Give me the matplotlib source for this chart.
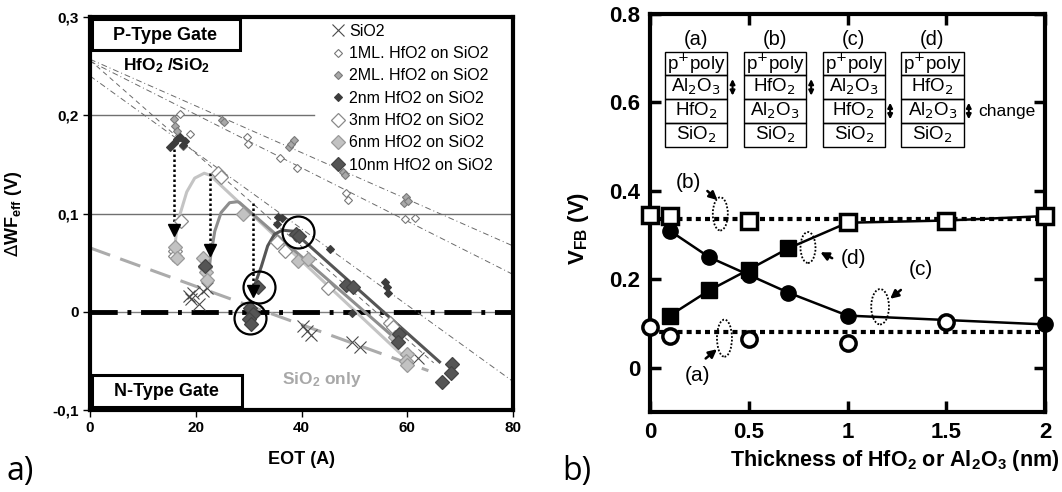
import numpy as np
import matplotlib
matplotlib.use("Agg")
import matplotlib.pyplot as plt
from matplotlib.patches import Rectangle, Ellipse

plt.rcParams['font.family'] = ['Liberation Sans', 'DejaVu Sans']

# ---------------- panel a) data : EOT (A) vs dWF_eff (V) ----------------
sio2_eot = [18.7, 19.1, 19.5, 20.6, 22.1, 21.4, 40.3, 41.0, 41.8, 49.5, 51.0, 62.0]
sio2_dwf = [0.016, 0.013, 0.019, 0.008, 0.024, 0.021, -0.014, -0.020, -0.024, -0.031, -0.036, -0.047]

ml1_eot = [17.0, 19.0, 17.5, 29.6, 29.8, 35.9, 39.1, 48.5, 48.8, 59.5, 61.4]
ml1_dwf = [0.201, 0.181, 0.169, 0.178, 0.171, 0.156, 0.146, 0.121, 0.114, 0.094, 0.095]

ml2_eot = [15.8, 16.0, 16.5, 24.9, 25.3, 37.6, 38.1, 38.6, 47.8, 48.2, 59.3, 59.7, 60.1]
ml2_dwf = [0.196, 0.189, 0.184, 0.195, 0.193, 0.168, 0.171, 0.175, 0.142, 0.139, 0.111, 0.117, 0.113]

nm2_eot = [15.2, 15.8, 16.4, 17.0, 17.6, 18.0, 35.5, 36.4, 35.3, 45.4, 49.5, 55.8, 56.1, 56.4]
nm2_dwf = [0.168, 0.172, 0.176, 0.178, 0.170, 0.174, 0.096, 0.095, 0.089, 0.064, -0.001, 0.030, 0.025, 0.019]

nm3_eot = [17.3, 16.1, 16.1, 24.3, 24.8, 35.3, 36.9, 45.0, 56.7, 57.3]
nm3_dwf = [0.092, 0.062, 0.057, 0.141, 0.137, 0.071, 0.062, 0.024, -0.011, -0.016]

nm6_eot = [16.1, 16.5, 21.4, 21.7, 21.9, 22.1, 29.0, 39.4, 41.2, 57.6, 59.9, 59.7, 60.0]
nm6_dwf = [0.066, 0.055, 0.055, 0.046, 0.040, 0.032, 0.100, 0.052, 0.054, -0.026, -0.043, -0.050, -0.054]

nm10_eot = [21.8, 30.3, 30.8, 30.1, 30.5, 31.7, 39.0, 39.6, 48.5, 49.8, 58.4, 58.2, 68.5, 68.2, 66.6]
nm10_dwf = [0.047, 0.004, -0.002, -0.007, -0.012, 0.025, 0.079, 0.077, 0.027, 0.025, -0.023, -0.031, -0.053, -0.062, -0.072]

# linear fits (start / end points)
fit_eot = [[0, 80], [0, 80], [0, 80], [0, 65]]
fit_dwf = [[0.257, 0.067], [0.255, 0.038], [0.240, -0.071], [0.256, -0.052]]
sio2_fit_eot = [0, 64]
sio2_fit_dwf = [0.065, -0.060]

# guide curves
curve_light_eot = [15.8, 16.3, 16.9, 18.3, 19.8, 21.6, 22.7, 59.8]
curve_light_dwf = [0.052, 0.079, 0.097, 0.122, 0.136, 0.141, 0.139, -0.048]
curve_mid_eot = [22.4, 22.8, 23.6, 24.8, 26.4, 27.9, 28.3, 57.9]
curve_mid_dwf = [0.037, 0.056, 0.082, 0.101, 0.111, 0.112, 0.111, -0.028]
curve_dark_eot = [30.8, 32.4, 33.6, 34.9, 36.4, 38.4, 66.1]
curve_dark_dwf = [0.022, 0.046, 0.067, 0.079, 0.083, 0.082, -0.051]

# dotted arrows
arrow_eot = [15.8, 22.7, 30.9]
arrow_top = [0.166, 0.141, 0.111]
arrow_bot = [0.083, 0.063, 0.021]

# circled points
circ_eot = [39.3, 32.0, 30.3]
circ_dwf = [0.081, 0.025, -0.006]

# ---------------- panel b) data : thickness (nm) vs VFB (V) ----------------
a_thick = [0, 0.1, 0.5, 1.0, 1.5]
a_vfb = [0.093, 0.072, 0.064, 0.055, 0.103]
b_thick = [0, 0.1, 0.5, 1.0, 1.5, 2.0]
b_vfb = [0.345, 0.343, 0.332, 0.330, 0.333, 0.343]
c_thick = [0.1, 0.3, 0.5, 0.7, 1.0, 2.0]
c_vfb = [0.310, 0.250, 0.210, 0.170, 0.118, 0.098]
d_thick = [0.1, 0.3, 0.5, 0.7, 1.0, 1.5, 2.0]
d_vfb = [0.118, 0.175, 0.222, 0.270, 0.328, 0.333, 0.343]
a_level = 0.082
b_level = 0.337

stack_names = ['(a)', '(b)', '(c)', '(d)']
stack_layers = [
    ['p$^{+}$poly', 'Al$_2$O$_3$', 'HfO$_2$', 'SiO$_2$'],
    ['p$^{+}$poly', 'HfO$_2$', 'Al$_2$O$_3$', 'SiO$_2$'],
    ['p$^{+}$poly', 'Al$_2$O$_3$', 'HfO$_2$', 'SiO$_2$'],
    ['p$^{+}$poly', 'HfO$_2$', 'Al$_2$O$_3$', 'SiO$_2$'],
]
stack_changed = [1, 1, 2, 2]

fig = plt.figure(figsize=(10.62, 4.92), dpi=100)

# =========================== panel a) ===========================
ax1 = fig.add_axes([90 / 1062, 82 / 492, 423 / 1062, 393 / 492])
ax1.set_xlim(0, 80)
ax1.set_ylim(-0.1, 0.3)

ax1.axhline(0.1, color='#707070', lw=1, zorder=1)
ax1.axhline(0.2, xmax=0.53, color='#707070', lw=1, zorder=1)
ax1.axhline(0, color='#808080', lw=1, zorder=1)
ax1.axhline(0, color='black', lw=3.5, linestyle=(0, (5.6, 2, 0.8, 2)), zorder=2)

fit_styles = [(0, (6, 3, 1, 3)), (0, (6, 3, 1, 3)), (0, (6, 3, 1, 3)), (0, (5, 4))]
for fx, fy, ls in zip(fit_eot, fit_dwf, fit_styles):
    ax1.plot(fx, fy, color='#6a6a6a', lw=0.7, linestyle=ls, zorder=2)
ax1.plot(sio2_fit_eot, sio2_fit_dwf, color='#ababab', lw=2.2,
         linestyle=(0, (7, 3.5)), zorder=2)

ax1.plot(curve_light_eot, curve_light_dwf, color='#c4c4c4', lw=2.2, zorder=3)
ax1.plot(curve_mid_eot, curve_mid_dwf, color='#8e8e8e', lw=2.2, zorder=3)
ax1.plot(curve_dark_eot, curve_dark_dwf, color='#555555', lw=2.2, zorder=3)

for xe, yt, yb in zip(arrow_eot, arrow_top, arrow_bot):
    ax1.plot([xe, xe], [yt, yb], color='black', lw=1.8, linestyle=(0, (1, 1)), zorder=4)
    ax1.plot(xe, yb, marker='v', color='black', ms=8, zorder=6)

h_sio2, = ax1.plot(sio2_eot, sio2_dwf, 'x', color='#4a4a4a', ms=9, mew=0.8, zorder=5,
                   label='SiO2')
h_ml1, = ax1.plot(ml1_eot, ml1_dwf, 'D', mfc='white', mec='#777777', ms=4, mew=0.8, zorder=5,
                  label='1ML. HfO2 on SiO2')
h_ml2, = ax1.plot(ml2_eot, ml2_dwf, 'D', mfc='#a8a8a8', mec='#7a7a7a', ms=4, mew=0.8, zorder=5,
                  label='2ML. HfO2 on SiO2')
h_nm2, = ax1.plot(nm2_eot, nm2_dwf, 'D', mfc='#3c3c3c', mec='#3c3c3c', ms=4, mew=0.8, zorder=5,
                  label='2nm HfO2 on SiO2')
h_nm3, = ax1.plot(nm3_eot, nm3_dwf, 'D', mfc='white', mec='#8a8a8a', ms=7, mew=0.9, zorder=5,
                  label='3nm HfO2 on SiO2')
h_nm6, = ax1.plot(nm6_eot, nm6_dwf, 'D', mfc='#c2c2c2', mec='#9a9a9a', ms=7, mew=0.9, zorder=5,
                  label='6nm HfO2 on SiO2')
h_nm10, = ax1.plot(nm10_eot, nm10_dwf, 'D', mfc='#555555', mec='#444444', ms=7, mew=0.9, zorder=5,
                   label='10nm HfO2 on SiO2')

ax1.plot(circ_eot, circ_dwf, 'o', mfc='none', mec='black', ms=23, mew=1.6, zorder=7)

ax1.legend(handles=[h_sio2, h_ml1, h_ml2, h_nm2, h_nm3, h_nm6, h_nm10],
           loc='upper left', bbox_to_anchor=(0.56, 0.995), frameon=False,
           fontsize=11.5, handlelength=0.8, handletextpad=0.3,
           labelspacing=0.46, borderaxespad=0.2, borderpad=0.1)

ax1.add_patch(Rectangle((0.005, 0.916), 0.35, 0.079, transform=ax1.transAxes,
                        fill=True, fc='white', ec='black', lw=2.2, zorder=8))
ax1.text(0.177, 0.954, 'P-Type Gate', transform=ax1.transAxes, ha='center', va='center',
         fontsize=13, fontweight='bold', zorder=9)
ax1.add_patch(Rectangle((0.005, 0.008), 0.355, 0.081, transform=ax1.transAxes,
                        fill=True, fc='white', ec='black', lw=2.2, zorder=8))
ax1.text(0.18, 0.047, 'N-Type Gate', transform=ax1.transAxes, ha='center', va='center',
         fontsize=13, fontweight='bold', zorder=9)
ax1.text(0.181, 0.876, r'HfO$\mathregular{_2}$ /SiO$\mathregular{_2}$', transform=ax1.transAxes,
         ha='center', va='center', fontsize=12.5, fontweight='bold')
ax1.text(0.547, 0.078, r'SiO$\mathregular{_2}$ only', transform=ax1.transAxes,
         ha='center', va='center', fontsize=12.5, fontweight='bold', color='#a8a8a8')

for s in ax1.spines.values():
    s.set_linewidth(3)
ax1.set_xticks([0, 20, 40, 60, 80])
ax1.set_yticks([-0.1, 0, 0.1, 0.2, 0.3])
ax1.set_yticklabels(['-0,1', '0', '0,1', '0,2', '0,3'])
ax1.tick_params(direction='out', length=5, width=1, labelsize=11, pad=3)
for lab in ax1.get_xticklabels() + ax1.get_yticklabels():
    lab.set_fontweight('bold')
ax1.set_xlabel('EOT (A)', fontsize=13, fontweight='bold')
ax1.set_ylabel(r'$\Delta$WF$\mathregular{_{eff}}$ (V)', fontsize=13, fontweight='bold')
ax1.xaxis.set_label_coords(0.5, -0.105)
ax1.yaxis.set_label_coords(-0.155, 0.5)

# =========================== panel b) ===========================
ax2 = fig.add_axes([650 / 1062, 80 / 492, 395 / 1062, 398 / 492])
ax2.set_xlim(0, 2)
ax2.set_ylim(-0.1, 0.8)

ax2.plot([0, 2], [a_level, a_level], color='black', lw=3, linestyle=(0, (1.2, 1)), zorder=2)
ax2.plot([0, 2], [b_level, b_level], color='black', lw=3, linestyle=(0, (1.2, 1)), zorder=2)
ax2.plot(c_thick, c_vfb, color='black', lw=1.8, zorder=3)
ax2.plot(d_thick, d_vfb, color='black', lw=1.8, zorder=3)

ax2.plot(c_thick, c_vfb, 'o', color='black', ms=11, zorder=4, clip_on=False)
ax2.plot(d_thick[:4], d_vfb[:4], 's', color='black', ms=12, zorder=4, clip_on=False)
ax2.plot(a_thick, a_vfb, 'o', mfc='white', mec='black', ms=11, mew=2.5, zorder=5, clip_on=False)
ax2.plot(b_thick, b_vfb, 's', mfc='white', mec='black', ms=12, mew=2.5, zorder=5, clip_on=False)

# dotted ellipses with arrows and labels
ell_xy = [(0.377, 0.067), (0.356, 0.348), (1.165, 0.138), (0.80, 0.272)]
ell_wh = [(0.076, 0.084), (0.076, 0.075), (0.09, 0.08), (0.076, 0.07)]
lab_xy = [(0.238, -0.017), (0.195, 0.419), (1.374, 0.222), (1.03, 0.248)]
arr_from = [(0.271, 0.017), (0.28, 0.404), (1.281, 0.18), (0.935, 0.245)]
arr_to = [(0.35, 0.046), (0.352, 0.375), (1.205, 0.152), (0.85, 0.264)]
for name, (ex, ey), (ew, eh), (lx, ly), af, at in zip(stack_names, ell_xy, ell_wh, lab_xy,
                                                        arr_from, arr_to):
    ax2.add_patch(Ellipse((ex, ey), ew, eh, fill=False, ec='black', lw=1.3,
                          linestyle=(0, (1, 1)), zorder=6))
    ax2.text(lx, ly, name, ha='center', va='center', fontsize=15)
    ax2.annotate('', xy=at, xytext=af,
                 arrowprops=dict(arrowstyle='-|>', color='black', lw=1.8, mutation_scale=12))

# layer stacks
stack_left = [0.038, 0.237, 0.437, 0.636]
stack_w = 0.158
row_top = 0.905
row_h = 0.0595
for i, (name, layers) in enumerate(zip(stack_names, stack_layers)):
    x0 = stack_left[i]
    ax2.text(x0 + stack_w / 2, 0.937, name, transform=ax2.transAxes, ha='center',
             va='center', fontsize=14.5)
    for j, lay in enumerate(layers):
        y0 = row_top - (j + 1) * row_h
        ax2.add_patch(Rectangle((x0, y0), stack_w, row_h, transform=ax2.transAxes,
                                fill=False, ec='black', lw=1))
        ax2.text(x0 + stack_w / 2, y0 + row_h / 2, lay, transform=ax2.transAxes,
                 ha='center', va='center', fontsize=13.5)
    k = stack_changed[i]
    ya = row_top - (k + 1) * row_h
    ax2.annotate('', xy=(x0 + stack_w + 0.013, ya + 0.002), xytext=(x0 + stack_w + 0.013, ya + row_h - 0.002),
                 xycoords='axes fraction', textcoords='axes fraction',
                 arrowprops=dict(arrowstyle='<|-|>', color='black', lw=1.5, mutation_scale=7))
ax2.text(0.83, row_top - 2.5 * row_h, 'change', transform=ax2.transAxes, ha='left',
         va='center', fontsize=12.5)

for s in ax2.spines.values():
    s.set_linewidth(3)
ax2.set_xticks([0, 0.5, 1, 1.5, 2])
ax2.set_xticklabels(['0', '0.5', '1', '1.5', '2'])
ax2.set_yticks([0, 0.2, 0.4, 0.6, 0.8])
ax2.set_yticklabels(['0', '0.2', '0.4', '0.6', '0.8'])
ax2.tick_params(direction='in', length=8, width=2.5, labelsize=16, pad=7,
                top=True, right=True)
for lab in ax2.get_xticklabels() + ax2.get_yticklabels():
    lab.set_fontweight('bold')
ax2.set_xlabel(r'Thickness of HfO$\mathregular{_2}$ or Al$\mathregular{_2}$O$\mathregular{_3}$ (nm)',
               fontsize=15.5, fontweight='bold')
ax2.set_ylabel(r'V$\mathregular{_{FB}}$ (V)', fontsize=16, fontweight='bold')
ax2.xaxis.set_label_coords(0.62, -0.09)
ax2.yaxis.set_label_coords(-0.15, 0.46)

# panel labels
fig.text(0.006, 0.025, 'a)', fontsize=23, family=['Open Sans', 'DejaVu Sans'])
fig.text(0.529, 0.025, 'b)', fontsize=23, family=['Open Sans', 'DejaVu Sans'])

fig.savefig('out.png', dpi=100)
